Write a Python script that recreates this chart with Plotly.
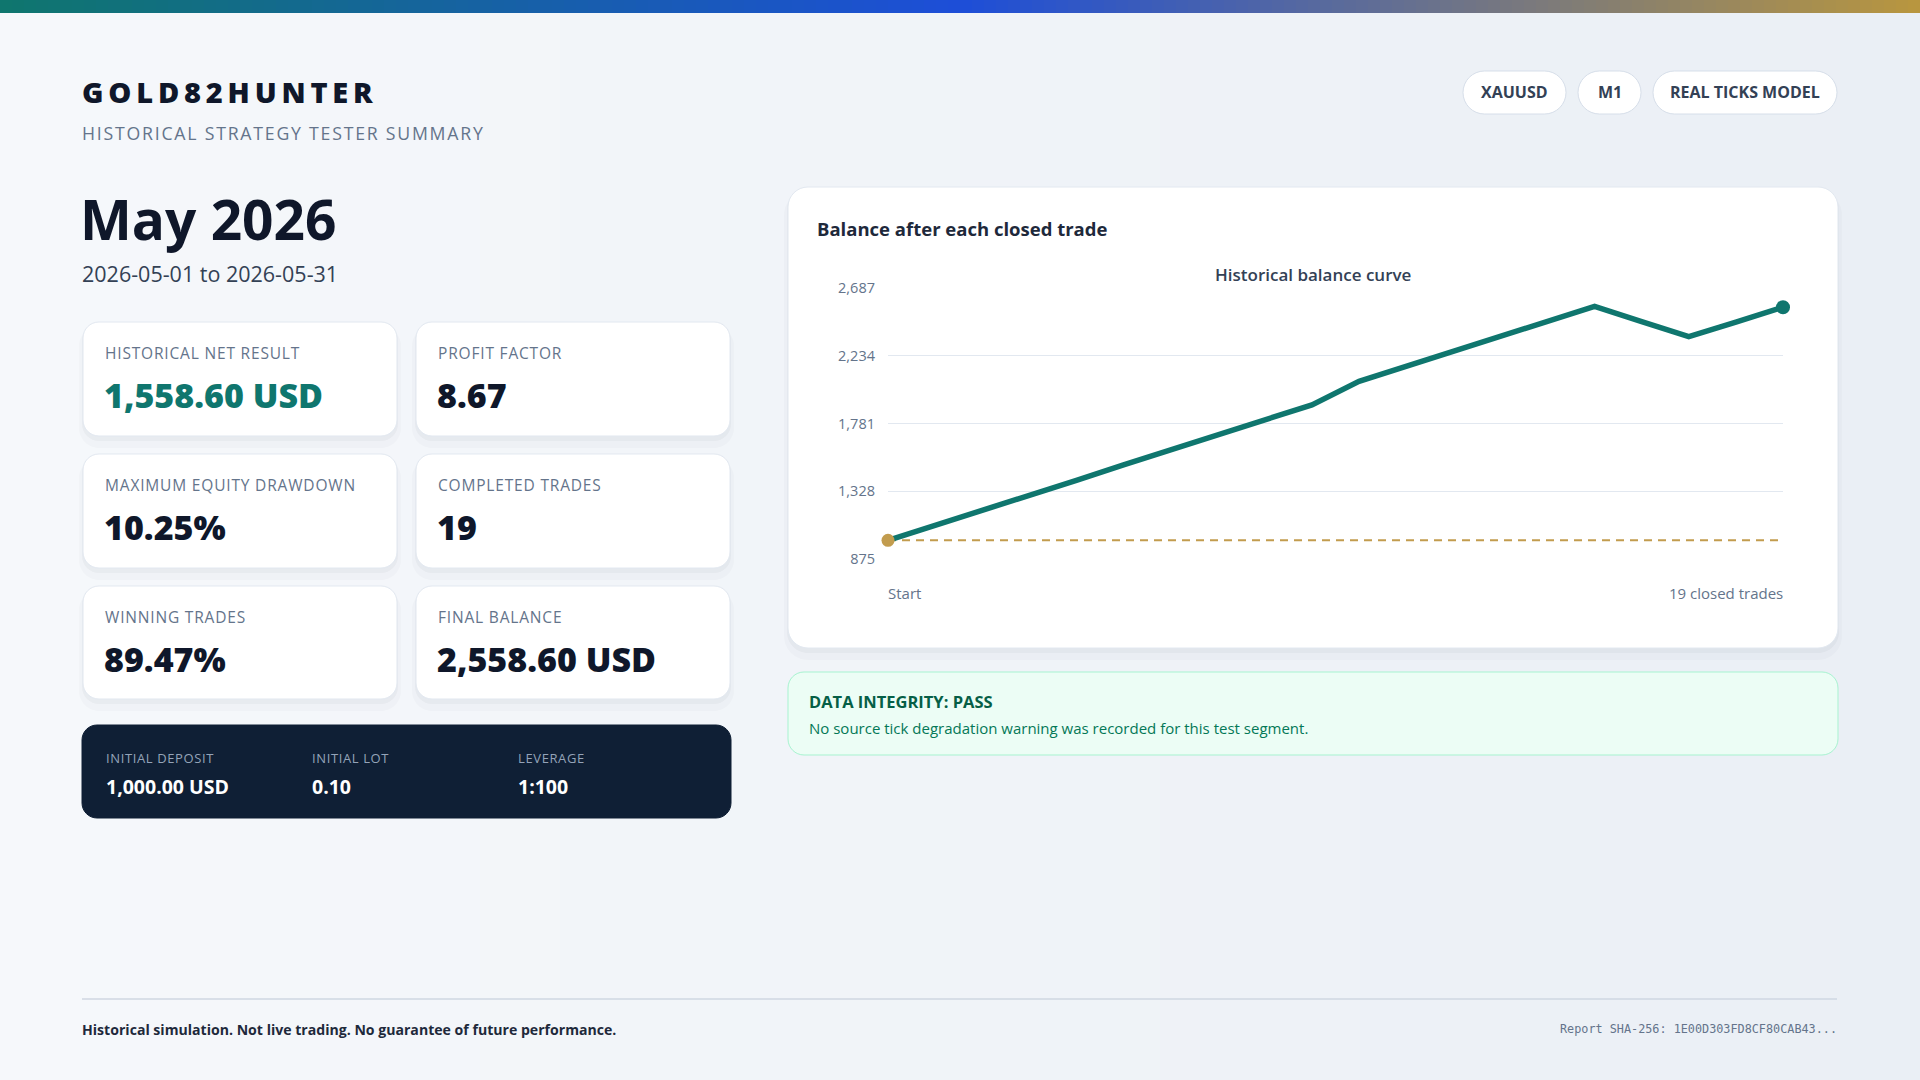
import plotly.graph_objects as go

W, H = 1920, 1080

# ---- report data ----
brand = "GOLD82HUNTER"
subtitle = "HISTORICAL STRATEGY TESTER SUMMARY"
period_title = "May 2026"
period_range = "2026-05-01 to 2026-05-31"
tags = ["XAUUSD", "M1", "REAL TICKS MODEL"]

kpi_labels = ["HISTORICAL NET RESULT", "PROFIT FACTOR",
              "MAXIMUM EQUITY DRAWDOWN", "COMPLETED TRADES",
              "WINNING TRADES", "FINAL BALANCE"]
kpi_values = ["1,558.60 USD", "8.67", "10.25%", "19", "89.47%", "2,558.60 USD"]

setup_labels = ["INITIAL DEPOSIT", "INITIAL LOT", "LEVERAGE"]
setup_values = ["1,000.00 USD", "0.10", "1:100"]

initial_deposit = 1000.0
# balance, start + 19 closed trades
balance = [1000.0, 1098.2, 1199.6, 1302.4, 1401.1, 1503.8, 1602.5, 1705.0,
           1806.3, 1905.7, 2062.9, 2163.1, 2261.8, 2364.4, 2462.7, 2564.0,
           2462.1, 2361.2, 2459.4, 2558.6]
trade_no = list(range(len(balance)))
y_ticks = [875, 1328, 1781, 2234, 2687]

integrity_title = "DATA INTEGRITY: PASS"
integrity_text = "No source tick degradation warning was recorded for this test segment."
footer_left = "Historical simulation. Not live trading. No guarantee of future performance."
footer_right = "Report SHA-256: 1E00D303FD8CF80CAB43..."

FONT = "Open Sans"
TEAL = "#0f766e"
GOLD = "#c29c4e"
INK = "#0f172a"
MUTED = "#64748b"


def px(x):
    return x / W


def py(y):
    return 1 - y / H


def spaced(s, sep="\u200a"):
    return sep.join(list(s))


def tracked(s, gap_px=8):
    # light letter spacing: hair spaces set in a small font size
    sep = f'<span style="font-size:{gap_px}px">\u200a</span>'
    return sep.join(list(s))


def rrect(x0, y0, x1, y1, r):
    c = r * 0.5523
    segs = [
        ("M", [(x0 + r, y0)]),
        ("L", [(x1 - r, y0)]),
        ("C", [(x1 - r + c, y0), (x1, y0 + r - c), (x1, y0 + r)]),
        ("L", [(x1, y1 - r)]),
        ("C", [(x1, y1 - r + c), (x1 - r + c, y1), (x1 - r, y1)]),
        ("L", [(x0 + r, y1)]),
        ("C", [(x0 + r - c, y1), (x0, y1 - r + c), (x0, y1 - r)]),
        ("L", [(x0, y0 + r)]),
        ("C", [(x0, y0 + r - c), (x0 + r - c, y0), (x0 + r, y0)]),
    ]
    out = []
    for cmd, pts in segs:
        out.append(cmd + " " + " ".join(f"{px(x):.5f},{py(y):.5f}" for x, y in pts))
    return " ".join(out) + " Z"


def mix(c1, c2, t):
    a = [int(c1[i:i + 2], 16) for i in (1, 3, 5)]
    b = [int(c2[i:i + 2], 16) for i in (1, 3, 5)]
    return "#" + "".join(f"{round(a[i] + (b[i] - a[i]) * t):02x}" for i in range(3))


shapes = []
annotations = []


def box(x0, y0, x1, y1, r, fill, line=None, shadow=True):
    if shadow:
        shapes.append(dict(type="path", path=rrect(x0 - 4, y0 + 4, x1 + 4, y1 + 12, r + 4),
                           xref="paper", yref="paper", layer="below",
                           fillcolor="rgba(15,23,42,0.018)", line=dict(width=0)))
        shapes.append(dict(type="path", path=rrect(x0 - 1, y0 + 2, x1 + 1, y1 + 5, r + 1),
                           xref="paper", yref="paper", layer="below",
                           fillcolor="rgba(15,23,42,0.03)", line=dict(width=0)))
    shapes.append(dict(type="path", path=rrect(x0, y0, x1, y1, r),
                       xref="paper", yref="paper", layer="below", fillcolor=fill,
                       line=dict(color=line or fill, width=1)))


def text(x, y, s, size, color, weight=400, anchor="left", family=FONT):
    # annotations carry ~2px inner padding; compensate so glyphs start at x
    shift = {"left": -2, "right": 2}.get(anchor, 0)
    annotations.append(dict(x=px(x), y=py(y), xref="paper", yref="paper", text=s,
                            showarrow=False, xanchor=anchor, yanchor="middle", xshift=shift,
                            font=dict(family=family, size=size, color=color, weight=weight)))


# background and top bar gradients
n_bg = 48
for i in range(n_bg):
    shapes.append(dict(type="rect", xref="paper", yref="paper", layer="below",
                       x0=i / n_bg, x1=(i + 1) / n_bg + 0.001, y0=0, y1=1,
                       fillcolor=mix("#f6f8fb", "#eaeff5", i / (n_bg - 1)), line=dict(width=0)))
n_bar = 160
for i in range(n_bar):
    t = i / (n_bar - 1)
    col = mix("#0f766e", "#1d4ed8", t * 2) if t < 0.5 else mix("#1d4ed8", "#b8963f", (t - 0.5) * 2)
    shapes.append(dict(type="rect", xref="paper", yref="paper", layer="below",
                       x0=i / n_bar, x1=(i + 1) / n_bar + 0.001, y0=py(13), y1=1,
                       fillcolor=col, line=dict(width=0)))

# header
text(82, 92, spaced(brand, "\u2009"), 29, INK, 800)
text(82, 133, spaced(subtitle), 17.7, MUTED)
text(80, 219, period_title, 55, INK, 700)
text(82, 273, period_range, 21.5, "#334155")

pill_x = [(1463, 1566), (1578, 1641), (1653, 1837)]
for (a, b), tag in zip(pill_x, tags):
    box(a, 71, b, 114, 21.5, "#ffffff", "#d6dee9", shadow=False)
    text((a + b) / 2, 92.5, tag, 16, "#334155", 700, anchor="center")

# KPI cards
col_x = [(83, 397), (416, 730)]
row_y = [(322, 436), (454, 568), (586, 699)]
for i, (lab, val) in enumerate(zip(kpi_labels, kpi_values)):
    (x0, x1), (y0, y1) = col_x[i % 2], row_y[i // 2]
    box(x0, y0, x1, y1, 16, "#ffffff", "#e2e8f0")
    text(x0 + 22, y0 + 31, tracked(lab, 8), 15.5, MUTED)
    text(x0 + 21, y0 + 73, val, 34, TEAL if i == 0 else INK, 800)

# setup strip
box(82, 725, 731, 818, 15, "#0f1f35", shadow=False)
for lab, val, x in zip(setup_labels, setup_values, [106, 312, 518]):
    text(x, 758, tracked(lab, 6), 13, "#94a3b8")
    text(x, 786, val, 19.5, "#ffffff", 700)

# chart card
box(788, 187, 1838, 648, 20, "#ffffff", "#e2e8f0")
text(817, 228, "Balance after each closed trade", 18.5, "#1e293b", 700)
text(1313, 274, "Historical balance curve", 17, "#334155", 600, anchor="center")

# integrity box
box(788, 672, 1838, 755, 16, "#ecfdf5", "#a7f3d0", shadow=False)
text(809, 701, integrity_title, 16.5, "#065f46", 700)
text(809, 728, integrity_text, 15, "#047857")

# footer
shapes.append(dict(type="line", xref="paper", yref="paper", layer="below",
                   x0=px(82), x1=px(1837), y0=py(999), y1=py(999),
                   line=dict(color="#cfd7e2", width=1.5)))
text(82, 1029, footer_left, 14.1, "#1e293b", 700)
text(1837, 1029, footer_right, 11.8, MUTED, anchor="right", family="DejaVu Sans Mono")

fig = go.Figure()
fig.add_trace(go.Scatter(x=[trade_no[0], trade_no[-1]], y=[initial_deposit, initial_deposit],
                         mode="lines", line=dict(color=GOLD, width=2, dash="8px,6px"),
                         hoverinfo="skip", showlegend=False))
fig.add_trace(go.Scatter(x=trade_no, y=balance, mode="lines",
                         line=dict(color=TEAL, width=5.5), cliponaxis=False,
                         hoverinfo="skip", showlegend=False))
fig.add_trace(go.Scatter(x=[trade_no[0]], y=[balance[0]], mode="markers",
                         marker=dict(color=GOLD, size=13), cliponaxis=False,
                         hoverinfo="skip", showlegend=False))
fig.add_trace(go.Scatter(x=[trade_no[-1]], y=[balance[-1]], mode="markers",
                         marker=dict(color=TEAL, size=14), cliponaxis=False,
                         hoverinfo="skip", showlegend=False))

# x end labels placed on the data scale
annotations.append(dict(x=trade_no[0], y=py(593), xref="x", yref="paper", text="Start",
                        showarrow=False, xanchor="left", yanchor="middle", xshift=-2,
                        font=dict(family=FONT, size=15, color=MUTED)))
annotations.append(dict(x=trade_no[-1], y=py(593), xref="x", yref="paper",
                        text=f"{len(balance) - 1} closed trades",
                        showarrow=False, xanchor="right", yanchor="middle", xshift=2,
                        font=dict(family=FONT, size=15, color=MUTED)))

fig.update_layout(
    width=W, height=H, margin=dict(l=0, r=0, t=0, b=0, pad=0, autoexpand=False),
    paper_bgcolor="#f1f5f9", plot_bgcolor="rgba(0,0,0,0)",
    font=dict(family=FONT),
    shapes=shapes, annotations=annotations,
    xaxis=dict(domain=[px(888), px(1783)], range=[trade_no[0], trade_no[-1]],
               showgrid=False, zeroline=False, showline=False, showticklabels=False,
               automargin=False, fixedrange=True),
    yaxis=dict(domain=[py(559), py(288)], range=[y_ticks[0], y_ticks[-1]],
               tickvals=y_ticks, tickformat=",", showgrid=True, gridcolor="#e2e8f0",
               gridwidth=1, zeroline=False, showline=False, ticklabelstandoff=12,
               automargin=False,
               tickfont=dict(family=FONT, size=14.5, color=MUTED), fixedrange=True),
)

fig.write_html("out.html", config={"displayModeBar": False},
               post_script="document.body.style.margin='0';")
